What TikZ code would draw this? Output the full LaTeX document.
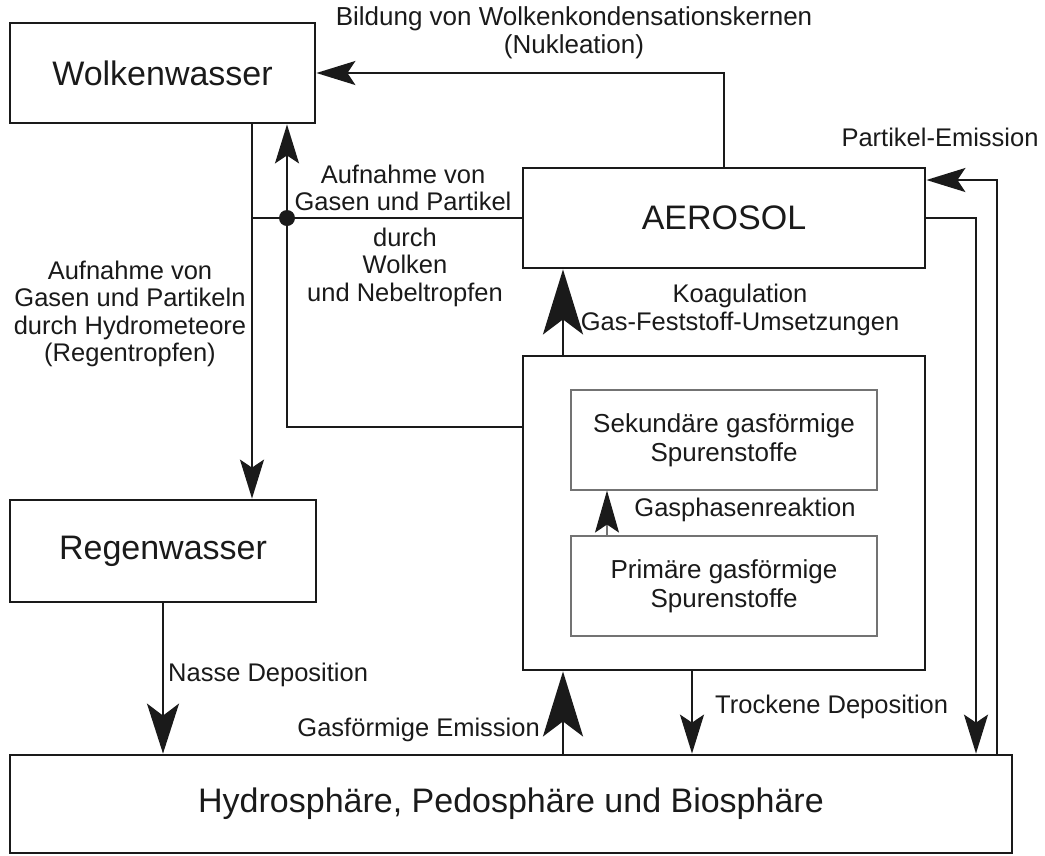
\documentclass[tikz,border=0pt]{standalone}
\usepackage{fontspec}
\setmainfont{Liberation Sans}
\usetikzlibrary{arrows.meta,calc}
\definecolor{ink}{HTML}{1A1A1A}
\newcommand\bigf{\fontsize{34}{38}\selectfont}
\newcommand\smallf{\fontsize{25.5}{27.5}\selectfont}
\newcommand\topf{\fontsize{26}{27.5}\selectfont}
\newcommand\innerf{\fontsize{26}{29}\selectfont}
\begin{document}
\begin{tikzpicture}[x=1pt,y=-1pt,
  box/.style={draw=ink,line width=2.8pt,inner sep=0pt,font=\bigf,text=ink},
  ibox/.style={draw=black!55,line width=1.1pt,inner sep=0pt,font=\innerf,align=center,text=ink},
  lbl/.style={font=\smallf,text=ink,inner sep=0pt,align=center},
  arr/.style={draw=ink,line width=2.2pt,-{Stealth[length=39pt,width=24pt,inset=8pt]}},
  bigarr/.style={draw=ink,line width=2.8pt,-{Stealth[length=65pt,width=40pt,inset=15pt]}},
  nasarr/.style={draw=ink,line width=2.2pt,-{Stealth[length=50pt,width=32pt,inset=12pt]}},
  thinarr/.style={draw=black!55,line width=1.2pt,-{Stealth[length=42pt,width=24pt,inset=8pt,color=ink]}}]
\useasboundingbox (0,0) rectangle (1045,855);

% boxes
\node[box,minimum width=305pt,minimum height=100pt] (wolk) at (162.5,73) {Wolkenwasser};
\node[box,minimum width=306pt,minimum height=102pt] (regen) at (163,551) {Regenwasser};
\node[box,minimum width=1002pt,minimum height=98pt] (hydro) at (511,804) {Hydrosphäre, Pedosphäre und Biosphäre};
\node[box,minimum width=402pt,minimum height=100pt] (aero) at (724,218) {AEROSOL};
\node[box,minimum width=402pt,minimum height=314pt] (big) at (724,513) {};
\node[ibox,minimum width=306pt,minimum height=100pt] (sek) at (724,440) {Sekundäre gasförmige\\Spurenstoffe};
\node[ibox,minimum width=306pt,minimum height=100pt] (prim) at (724,586) {Primäre gasförmige\\Spurenstoffe};

% helper coordinates
\coordinate (lx) at (252,0);
\coordinate (ux) at (287,427);
\coordinate (cx) at (563,0);
\coordinate (dx) at (692,0);
\coordinate (pet) at (997,180);
\coordinate (ddx) at (976,0);
\coordinate (gx) at (607,0);

% connectors
\draw[arr] (aero.north) |- (wolk.east);
\draw[arr] (hydro.north -| pet) |- (aero.east |- pet);
\draw[arr] (aero.east) -| (hydro.north -| ddx);
\draw[bigarr] (big.north -| cx) -- (aero.south -| cx);
\draw[bigarr] (hydro.north -| cx) -- (big.south -| cx);
\draw[arr] (big.south -| dx) -- (hydro.north -| dx);
\draw[nasarr] (regen.south) -- (hydro.north -| regen.south);
\draw[arr] (wolk.south -| lx) -- (regen.north -| lx);
\draw[arr] (big.west |- ux) -| (wolk.south -| ux);
\draw[draw=ink,line width=1.5pt] (aero.west) -- (aero.west -| lx);
\fill[ink] (aero.west -| ux) circle (8pt);
\draw[thinarr] (prim.north -| gx) -- (sek.south -| gx);

% labels
\node[lbl,font=\topf] (tnuk) at (574,33) {Bildung von Wolkenkondensationskernen\\(Nukleation)};
\node[lbl] (tpe) at (940,137) {Partikel-Emission};
\node[lbl] (tauf) at (403,188) {Aufnahme von\\Gasen und Partikel};
\node[lbl] (tdur) at (405,267) {durch\\Wolken\\und Nebeltropfen};
\node[lbl] (thyd) at (130,314) {Aufnahme von\\Gasen und Partikeln\\durch Hydrometeore\\(Regentropfen)};
\node[lbl] (tkoa) at (740,310) {Koagulation\\Gas-Feststoff-Umsetzungen};
\node[lbl] (tgas) at (745,510) {Gasphasenreaktion};
\node[lbl,anchor=west] (tnas) at (168,675) {Nasse Deposition};
\node[lbl,anchor=east] (tgem) at (540,730) {Gasförmige Emission};
\node[lbl,anchor=west] (ttro) at (715,707) {Trockene Deposition};
\end{tikzpicture}
\end{document}
